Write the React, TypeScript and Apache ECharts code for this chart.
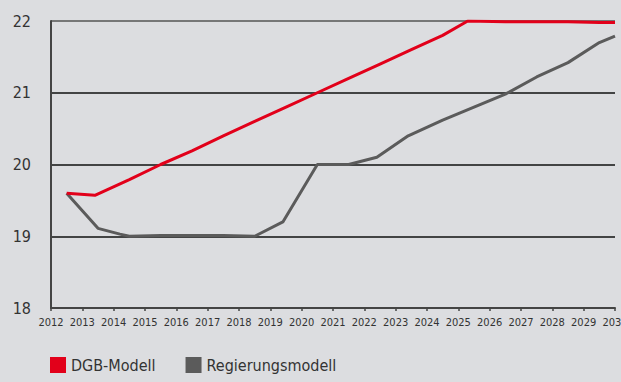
import React, { useEffect, useRef } from "react";
import * as echarts from "echarts";

const years = [2012, 2013, 2014, 2015, 2016, 2017, 2018, 2019, 2020, 2021, 2022, 2023, 2024, 2025, 2026, 2027, 2028, 2029, 2030];

const dgbX = [2012.5, 2013.4, 2014.5, 2015.5, 2016.5, 2017.5, 2018.5, 2019.5, 2020.5, 2021.5, 2022.5, 2023.5, 2024.5, 2025.3, 2026.5, 2027.5, 2028.5, 2029.5, 2030];
const dgbY = [19.6, 19.57, 19.79, 20.0, 20.19, 20.4, 20.6, 20.8, 21.0, 21.2, 21.4, 21.6, 21.8, 22.0, 21.99, 21.99, 21.99, 21.98, 21.98];

const regX = [2012.5, 2013.5, 2014.2, 2014.5, 2015.5, 2016.5, 2017.5, 2018.5, 2019.4, 2020.5, 2021.5, 2022.4, 2023.4, 2024.5, 2025.5, 2026.5, 2027.5, 2028.5, 2029.5, 2030];
const regY = [19.6, 19.11, 19.03, 19.0, 19.01, 19.01, 19.01, 19.0, 19.2, 20.0, 20.0, 20.1, 20.4, 20.62, 20.8, 20.98, 21.22, 21.42, 21.7, 21.79];

const yTicks = [18, 19, 20, 21, 22];

const FONT = "'DejaVu Sans Condensed', 'Liberation Sans Narrow', sans-serif";

export default function App() {
  const ref = useRef<HTMLDivElement>(null);
  useEffect(() => {
    const chart = echarts.init(ref.current!, null, { renderer: "svg" });
    chart.setOption({
      animation: false,
      backgroundColor: "#dcdde0",
      grid: { left: 51, right: 6, top: 21, bottom: 74, containLabel: false, outerBoundsMode: "none" },
      legend: {
        left: 50,
        top: 357,
        padding: 0,
        itemWidth: 16,
        itemHeight: 16,
        itemGap: 30,
        icon: "rect",
        textStyle: { fontFamily: FONT, fontSize: 16, color: "#333" },
        data: ["DGB-Modell", "Regierungsmodell"],
      },
      xAxis: {
        type: "value",
        min: years[0],
        max: years[years.length - 1],
        interval: 1,
        axisLine: { show: true, lineStyle: { color: "#444", width: 2 } },
        axisTick: { show: true, length: 3, lineStyle: { color: "#444", width: 1.5 } },
        axisLabel: {
          margin: 9,
          fontFamily: FONT,
          fontSize: 11,
          color: "#333",
          hideOverlap: false,
          formatter: (v: number) => String(v),
        },
        splitLine: { show: false },
      },
      yAxis: {
        type: "value",
        min: yTicks[0],
        max: yTicks[yTicks.length - 1],
        interval: 1,
        axisLine: { show: true, lineStyle: { color: "#444", width: 2 } },
        axisTick: { show: false },
        axisLabel: { margin: 20, fontFamily: FONT, fontSize: 16, color: "#333" },
        splitLine: {
          show: true,
          lineStyle: { color: ["#111", "#111", "#111", "#111", "#555"], width: 1.5 },
        },
      },
      series: [
        {
          name: "DGB-Modell",
          type: "line",
          showSymbol: false,
          symbol: "none",
          data: dgbX.map((x, i) => [x, dgbY[i]]),
          lineStyle: { color: "#e2001a", width: 3 },
          itemStyle: { color: "#e2001a" },
          z: 3,
        },
        {
          name: "Regierungsmodell",
          type: "line",
          showSymbol: false,
          symbol: "none",
          data: regX.map((x, i) => [x, regY[i]]),
          lineStyle: { color: "#5b5b5b", width: 3 },
          itemStyle: { color: "#5b5b5b" },
          z: 2,
        },
      ],
    });
    return () => chart.dispose();
  }, []);
  return (
    <div
      ref={ref}
      style={{ position: "fixed", left: 0, top: 0, width: 621, height: 382 }}
    />
  );
}
